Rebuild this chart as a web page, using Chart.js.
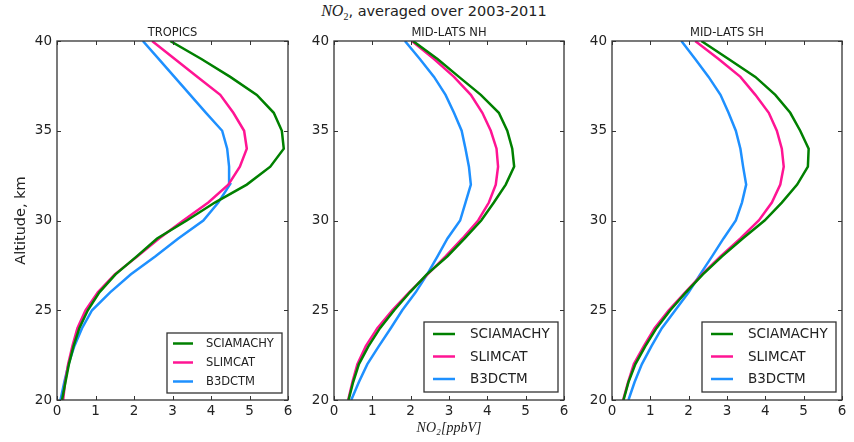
<!DOCTYPE html>
<html>
<head>
<meta charset="utf-8">
<script src="https://cdn.jsdelivr.net/npm/chart.js@4.4.1/dist/chart.umd.min.js"></script>
<style>
  body { margin: 0; background: #fff; width: 854px; height: 442px; position: relative; overflow: hidden; font-family: "DejaVu Sans", sans-serif; }
  .panel { position: absolute; top: 0; height: 442px; }
  #suptitle { position: absolute; left: 0; width: 868px; top: 2px; text-align: center; font-size: 14.5px; color: #222; white-space: nowrap; }
  #suptitle i { font-family: "Liberation Serif", serif; font-size: 16px; }
  #suptitle sub { font-family: "Liberation Serif", serif; font-size: 10px; }
</style>
</head>
<body>
<div id="suptitle"><i>NO</i><sub>2</sub>, averaged over 2003-2011</div>
<div class="panel" style="left:0px;width:300px"><canvas id="c1" width="300" height="442"></canvas></div>
<div class="panel" style="left:300px;width:285px"><canvas id="c2" width="285" height="442"></canvas></div>
<div class="panel" style="left:585px;width:269px"><canvas id="c3" width="269" height="442"></canvas></div>
<script>
// altitude levels, km
const ALTITUDE = [20, 21, 22, 23, 24, 25, 26, 27, 28, 29, 30, 31, 32, 33, 34, 35, 36, 37, 38, 39, 40];
const SERIES = ['SCIAMACHY', 'SLIMCAT', 'B3DCTM'];
const REGIONS = ['TROPICS', 'MID-LATS NH', 'MID-LATS SH'];
const X_TICKS = [0, 1, 2, 3, 4, 5, 6];
const Y_TICKS = [20, 25, 30, 35, 40];

// NO2 in ppbV, one value per altitude level
const tropicsSciamachy = [0.13, 0.22, 0.31, 0.43, 0.58, 0.80, 1.10, 1.52, 2.07, 2.60, 3.37, 4.10, 4.93, 5.54, 5.89, 5.84, 5.63, 5.19, 4.50, 3.75, 2.94];
const tropicsSlimcat   = [0.16, 0.21, 0.29, 0.40, 0.53, 0.74, 1.06, 1.50, 2.09, 2.65, 3.28, 3.93, 4.45, 4.75, 4.93, 4.86, 4.58, 4.24, 3.65, 3.06, 2.47];
const tropicsB3dctm    = [0.09, 0.19, 0.30, 0.45, 0.65, 0.91, 1.38, 1.92, 2.55, 3.15, 3.80, 4.19, 4.49, 4.47, 4.42, 4.29, 3.87, 3.46, 3.05, 2.64, 2.23];

const nhSciamachy = [0.38, 0.50, 0.65, 0.90, 1.20, 1.57, 1.98, 2.42, 2.96, 3.41, 3.84, 4.17, 4.48, 4.70, 4.65, 4.52, 4.30, 3.83, 3.26, 2.70, 2.06];
const nhSlimcat   = [0.37, 0.48, 0.61, 0.83, 1.13, 1.52, 1.96, 2.44, 2.91, 3.35, 3.76, 4.04, 4.22, 4.28, 4.24, 4.09, 3.87, 3.57, 3.13, 2.61, 2.03];
const nhB3dctm    = [0.45, 0.65, 0.87, 1.17, 1.48, 1.78, 2.13, 2.43, 2.70, 2.96, 3.29, 3.43, 3.57, 3.52, 3.43, 3.33, 3.13, 2.91, 2.61, 2.24, 1.85];

const shSciamachy = [0.30, 0.43, 0.61, 0.87, 1.16, 1.52, 1.93, 2.37, 2.87, 3.41, 3.98, 4.43, 4.83, 5.11, 5.13, 4.91, 4.65, 4.26, 3.74, 3.04, 2.33];
const shSlimcat   = [0.29, 0.42, 0.57, 0.83, 1.11, 1.48, 1.91, 2.35, 2.83, 3.35, 3.83, 4.17, 4.39, 4.48, 4.43, 4.30, 4.09, 3.74, 3.35, 2.78, 2.17];
const shB3dctm    = [0.43, 0.59, 0.78, 1.03, 1.30, 1.65, 2.00, 2.30, 2.61, 2.91, 3.23, 3.39, 3.50, 3.42, 3.35, 3.23, 3.04, 2.83, 2.52, 2.17, 1.81];

const COLORS = ['#008000', '#FF1493', '#1E90FF'];
const FRAME = '#333';
const TEXT = '#222';

// axes frame plus inward tick marks on all four sides
const frameTicks = {
  id: 'frameTicks',
  afterDraw(chart) {
    const { ctx, chartArea: a, scales: { x, y } } = chart;
    ctx.save();
    ctx.strokeStyle = FRAME;
    ctx.lineWidth = 1;
    ctx.beginPath();
    x.ticks.forEach(t => {
      const px = Math.round(x.getPixelForValue(t.value)) + 0.5;
      ctx.moveTo(px, a.bottom); ctx.lineTo(px, a.bottom - 4);
      ctx.moveTo(px, a.top); ctx.lineTo(px, a.top + 4);
    });
    y.ticks.forEach(t => {
      const py = Math.round(y.getPixelForValue(t.value)) + 0.5;
      ctx.moveTo(a.left, py); ctx.lineTo(a.left + 4, py);
      ctx.moveTo(a.right, py); ctx.lineTo(a.right - 4, py);
    });
    ctx.stroke();
    ctx.lineWidth = 1.3;
    ctx.strokeRect(a.left, a.top, a.right - a.left, a.bottom - a.top);
    ctx.restore();
  }
};

// region name centred over the plot area
const panelTitle = {
  id: 'panelTitle',
  afterDraw(chart, args, opts) {
    const { ctx, chartArea: a } = chart;
    ctx.save();
    ctx.font = opts.size + 'px "DejaVu Sans"';
    ctx.fillStyle = TEXT;
    ctx.textAlign = 'center';
    ctx.textBaseline = 'alphabetic';
    ctx.fillText(opts.text, (a.left + a.right) / 2, a.top - 5);
    ctx.restore();
  }
};

// boxed legend in the lower right corner of the axes
const boxLegend = {
  id: 'boxLegend',
  afterDraw(chart, args, o) {
    const { ctx, chartArea: a } = chart;
    const x0 = a.right - o.right - o.width;
    const y0 = a.bottom - o.bottom - o.height;
    ctx.save();
    ctx.fillStyle = '#fff';
    ctx.fillRect(x0, y0, o.width, o.height);
    ctx.strokeStyle = FRAME;
    ctx.lineWidth = 1.3;
    ctx.strokeRect(x0, y0, o.width, o.height);
    ctx.font = o.size + 'px "DejaVu Sans"';
    ctx.textBaseline = 'middle';
    chart.data.datasets.forEach((ds, i) => {
      const y = y0 + o.first + i * o.row;
      ctx.strokeStyle = ds.borderColor;
      ctx.lineWidth = 2.5;
      ctx.beginPath();
      ctx.moveTo(x0 + o.lineX, y);
      ctx.lineTo(x0 + o.lineX + o.lineLen, y);
      ctx.stroke();
      ctx.fillStyle = TEXT;
      ctx.fillText(ds.label, x0 + o.textX, y + 0.5);
    });
    ctx.restore();
  }
};

function makePanel(id, region, values, layout) {
  const datasets = SERIES.map((name, k) => ({
    label: name,
    data: ALTITUDE.map((alt, i) => ({ x: values[k][i], y: alt })),
    borderColor: COLORS[k],
    backgroundColor: COLORS[k],
    borderWidth: 2.5,
    pointRadius: 0,
    tension: 0,
    showLine: true
  }));

  return new Chart(document.getElementById(id), {
    type: 'scatter',
    data: { datasets: datasets },
    plugins: [frameTicks, panelTitle, boxLegend],
    options: {
      responsive: false,
      animation: false,
      layout: { padding: { top: 41, right: layout.padRight, bottom: 0, left: 0 } },
      plugins: {
        legend: { display: false },
        tooltip: { enabled: false },
        panelTitle: { text: region, size: 11.5 },
        boxLegend: layout.legend
      },
      scales: {
        x: {
          type: 'linear',
          min: 0,
          max: 6,
          afterBuildTicks: s => { s.ticks = X_TICKS.map(v => ({ value: v })); },
          afterFit: s => { s.height = 42; },
          grid: { display: false, drawTicks: false },
          border: { display: false },
          ticks: { padding: 3, color: TEXT, font: { family: 'DejaVu Sans', size: 13.5 } },
          title: {
            display: layout.xTitle,
            text: 'NO₂[ppbV]',
            color: TEXT,
            font: { family: 'Liberation Serif', style: 'italic', size: 14 },
            padding: { top: 0, bottom: 5 }
          }
        },
        y: {
          type: 'linear',
          min: 20,
          max: 40,
          afterBuildTicks: s => { s.ticks = Y_TICKS.map(v => ({ value: v })); },
          afterFit: s => { s.width = layout.axisW; },
          grid: { display: false, drawTicks: false },
          border: { display: false },
          ticks: { padding: 5, color: TEXT, font: { family: 'DejaVu Sans', size: 13.5 } },
          title: {
            display: layout.yTitle,
            text: 'Altitude, km',
            color: TEXT,
            font: { family: 'DejaVu Sans', size: 14.5 },
            padding: { top: 13, bottom: 0 }
          }
        }
      }
    }
  });
}

const smallLegend = { width: 115, height: 60, right: 6, bottom: 7, first: 10.5, row: 19, lineX: 6, lineLen: 20, textX: 39, size: 11.5 };
const wideLegend = { width: 134, height: 70, right: 6, bottom: 8, first: 12, row: 22.5, lineX: 9, lineLen: 22, textX: 46, size: 13.5 };

makePanel('c1', REGIONS[0], [tropicsSciamachy, tropicsSlimcat, tropicsB3dctm],
  { axisW: 57, padRight: 12, yTitle: true, xTitle: false, legend: smallLegend });
makePanel('c2', REGIONS[1], [nhSciamachy, nhSlimcat, nhB3dctm],
  { axisW: 34, padRight: 21, yTitle: false, xTitle: true, legend: wideLegend });
makePanel('c3', REGIONS[2], [shSciamachy, shSlimcat, shB3dctm],
  { axisW: 27, padRight: 12, yTitle: false, xTitle: false, legend: wideLegend });
</script>
</body>
</html>
